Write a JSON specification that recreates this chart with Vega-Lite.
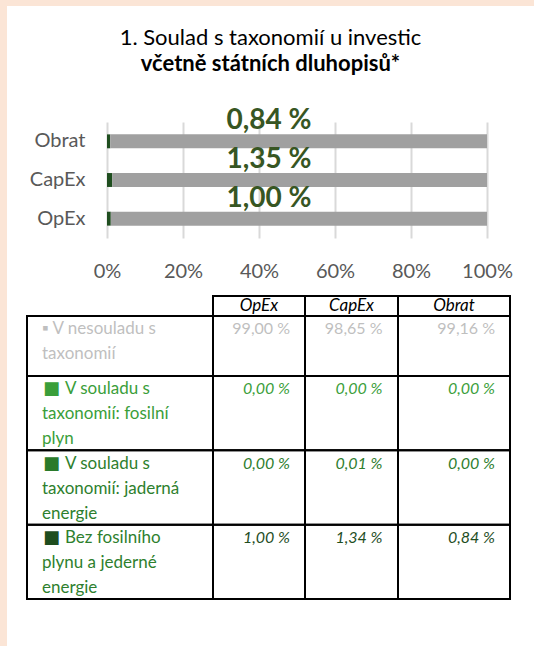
{
  "$schema": "https://vega.github.io/schema/vega-lite/v6.json",
  "background": "#ffffff",
  "padding": 0,
  "spacing": 0,
  "config": {
    "view": {"stroke": null},
    "font": "Lato",
    "text": {"font": "Lato"},
    "axis": {"labelFont": "Lato"}
  },
  "datasets": {
    "titles": [
      {"line": 1, "t": "1. Soulad s taxonomií u investic"},
      {"line": 2, "t": "včetně státních dluhopisů*"}
    ],
    "bars": [
      {"cat": "OpEx", "seg": "bez", "k": 1, "v": 0.0100},
      {"cat": "OpEx", "seg": "fos", "k": 2, "v": 0.0},
      {"cat": "OpEx", "seg": "jad", "k": 3, "v": 0.0},
      {"cat": "OpEx", "seg": "nes", "k": 4, "v": 0.9900},
      {"cat": "CapEx", "seg": "bez", "k": 1, "v": 0.0134},
      {"cat": "CapEx", "seg": "fos", "k": 2, "v": 0.0},
      {"cat": "CapEx", "seg": "jad", "k": 3, "v": 0.0001},
      {"cat": "CapEx", "seg": "nes", "k": 4, "v": 0.9865},
      {"cat": "Obrat", "seg": "bez", "k": 1, "v": 0.0084},
      {"cat": "Obrat", "seg": "fos", "k": 2, "v": 0.0},
      {"cat": "Obrat", "seg": "jad", "k": 3, "v": 0.0},
      {"cat": "Obrat", "seg": "nes", "k": 4, "v": 0.9916}
    ],
    "chartlabels": [
      {"cat": "Obrat", "lab": "0,84 %"},
      {"cat": "CapEx", "lab": "1,35 %"},
      {"cat": "OpEx", "lab": "1,00 %"}
    ],
    "cols": [{"col": "OpEx"}, {"col": "CapEx"}, {"col": "Obrat"}],
    "cells": [
      {"row": "nes", "col": "OpEx", "val": "99,00 %"},
      {"row": "nes", "col": "CapEx", "val": "98,65 %"},
      {"row": "nes", "col": "Obrat", "val": "99,16 %"},
      {"row": "fos", "col": "OpEx", "val": "0,00 %"},
      {"row": "fos", "col": "CapEx", "val": "0,00 %"},
      {"row": "fos", "col": "Obrat", "val": "0,00 %"},
      {"row": "jad", "col": "OpEx", "val": "0,00 %"},
      {"row": "jad", "col": "CapEx", "val": "0,01 %"},
      {"row": "jad", "col": "Obrat", "val": "0,00 %"},
      {"row": "bez", "col": "OpEx", "val": "1,00 %"},
      {"row": "bez", "col": "CapEx", "val": "1,34 %"},
      {"row": "bez", "col": "Obrat", "val": "0,84 %"}
    ],
    "rowlabels": [
      {"row": "nes", "sq": "", "first": "▪ V nesouladu s", "rest": "taxonomií"},
      {"row": "fos", "sq": "■", "first": "V souladu s", "rest": "taxonomií: fosilní\nplyn"},
      {"row": "jad", "sq": "■", "first": "V souladu s", "rest": "taxonomií: jaderná\nenergie"},
      {"row": "bez", "sq": "■", "first": "Bez fosilního", "rest": "plynu a jederné\nenergie"}
    ]
  },
  "vconcat": [
    {"width": 534, "height": 6, "view": {"fill": "#FBE5D6", "stroke": null}, "data": {"values": []}, "mark": "text", "encoding": {}},
    {
      "spacing": 0,
      "hconcat": [
        {"width": 7, "height": 640, "view": {"fill": "#FBE5D6", "stroke": null}, "data": {"values": []}, "mark": "text", "encoding": {}},
        {
          "spacing": 0,
          "vconcat": [
            {
              "width": 527, "height": 101,
              "data": {"name": "titles"},
              "encoding": {"text": {"field": "t"}},
              "layer": [
                {"transform": [{"filter": "datum.line == 1"}], "mark": {"type": "text", "fontSize": 22, "color": "#000000", "baseline": "alphabetic", "dy": -12}},
                {"transform": [{"filter": "datum.line == 2"}], "mark": {"type": "text", "fontSize": 22, "fontWeight": "bold", "color": "#000000", "baseline": "alphabetic", "dy": 14}}
              ]
            },
            {
              "spacing": 0,
              "bounds": "flush",
              "hconcat": [
                {"width": 100, "height": 116, "data": {"values": []}, "mark": "text", "encoding": {}},
                {
                  "width": 380, "height": 116,
                  "layer": [
                    {
                      "data": {"name": "bars"},
                      "mark": {"type": "bar", "orient": "horizontal"},
                      "encoding": {
                        "y": {"field": "cat", "type": "nominal", "sort": ["Obrat", "CapEx", "OpEx"], "scale": {"paddingInner": 0.64, "paddingOuter": 0.32},
                          "axis": {"title": null, "domain": false, "ticks": false, "labelPadding": 22, "labelFontSize": 20, "labelColor": "#595959"}},
                        "x": {"field": "v", "type": "quantitative", "stack": "zero", "scale": {"domain": [0, 1], "nice": false},
                          "axis": {"title": null, "domain": false, "ticks": false, "grid": true, "gridColor": "#D9D9D9", "gridWidth": 2, "values": [0, 0.2, 0.4, 0.6, 0.8, 1], "format": ".0%", "labelPadding": 23, "labelFontSize": 20, "labelColor": "#595959", "labelFlush": false, "labelOverlap": false}},
                        "color": {"field": "seg", "type": "nominal", "scale": {"domain": ["bez", "fos", "jad", "nes"], "range": ["#1F4E1F", "#3A9E3A", "#2E7D2E", "#A0A0A0"]}, "legend": null},
                        "order": {"field": "k", "type": "quantitative"}
                      }
                    },
                    {
                      "data": {"name": "chartlabels"},
                      "mark": {"type": "text", "fontSize": 28, "fontWeight": "bold", "color": "#375623", "dx": -28, "dy": -12, "baseline": "alphabetic"},
                      "encoding": {
                        "y": {"field": "cat", "type": "nominal", "sort": ["Obrat", "CapEx", "OpEx"]},
                        "text": {"field": "lab"}
                      }
                    }
                  ]
                }
              ]
            },
            {"width": 527, "height": 14, "data": {"values": []}, "mark": "text", "encoding": {}},
            {
              "columns": 5,
              "spacing": 0,
              "bounds": "flush",
              "align": "each",
              "concat": [
                {"width": 20, "height": 20, "data": {"values": []}, "mark": "text", "encoding": {}},
                {"width": 186, "height": 20, "data": {"values": []}, "mark": "text", "encoding": {}},
                {"width": 92, "height": 20, "view": {"stroke": "#000000", "strokeWidth": 2}, "data": {"name": "cols"}, "transform": [{"filter": "datum.col == 'OpEx'"}],
                  "mark": {"type": "text", "fontSize": 17, "fontStyle": "italic", "fontWeight": "normal", "color": "#000000", "baseline": "middle"}, "encoding": {"text": {"field": "col"}}},
                {"width": 93, "height": 20, "view": {"stroke": "#000000", "strokeWidth": 2}, "data": {"name": "cols"}, "transform": [{"filter": "datum.col == 'CapEx'"}],
                  "mark": {"type": "text", "fontSize": 17, "fontStyle": "italic", "fontWeight": "normal", "color": "#000000", "baseline": "middle"}, "encoding": {"text": {"field": "col"}}},
                {"width": 112, "height": 20, "view": {"stroke": "#000000", "strokeWidth": 2}, "data": {"name": "cols"}, "transform": [{"filter": "datum.col == 'Obrat'"}],
                  "mark": {"type": "text", "fontSize": 17, "fontStyle": "italic", "fontWeight": "normal", "color": "#000000", "baseline": "middle"}, "encoding": {"text": {"field": "col"}}},

                {"width": 20, "height": 60, "data": {"values": []}, "mark": "text", "encoding": {}},
                {"width": 186, "height": 60, "view": {"stroke": "#000000", "strokeWidth": 2}, "data": {"name": "rowlabels"}, "transform": [{"filter": "datum.row == 'nes'"}],
                  "encoding": {"y": {"field": "row", "type": "nominal", "scale": {"domain": ["nes"], "paddingInner": 0, "paddingOuter": 0}, "axis": null}},
                  "layer": [
                    {"mark": {"type": "text", "fontSize": 17, "color": "#BFBFBF", "align": "left", "dx": -78, "dy": -12, "baseline": "alphabetic"}, "encoding": {"text": {"field": "first"}}},
                    {"mark": {"type": "text", "fontSize": 17, "color": "#BFBFBF", "align": "left", "dx": -78, "dy": 13, "baseline": "alphabetic"}, "encoding": {"text": {"field": "rest"}}}
                  ]},
                {"width": 92, "height": 60, "view": {"stroke": "#000000", "strokeWidth": 2}, "data": {"name": "cells"}, "transform": [{"filter": "datum.col == 'OpEx' && datum.row == 'nes'"}],
                  "mark": {"type": "text", "fontSize": 16, "color": "#BFBFBF", "align": "right", "dx": 31, "dy": -12, "baseline": "alphabetic"},
                  "encoding": {"y": {"field": "row", "type": "nominal", "scale": {"domain": ["nes"], "paddingInner": 0, "paddingOuter": 0}, "axis": null}, "text": {"field": "val"}}},
                {"width": 93, "height": 60, "view": {"stroke": "#000000", "strokeWidth": 2}, "data": {"name": "cells"}, "transform": [{"filter": "datum.col == 'CapEx' && datum.row == 'nes'"}],
                  "mark": {"type": "text", "fontSize": 16, "color": "#BFBFBF", "align": "right", "dx": 31, "dy": -12, "baseline": "alphabetic"},
                  "encoding": {"y": {"field": "row", "type": "nominal", "scale": {"domain": ["nes"], "paddingInner": 0, "paddingOuter": 0}, "axis": null}, "text": {"field": "val"}}},
                {"width": 112, "height": 60, "view": {"stroke": "#000000", "strokeWidth": 2}, "data": {"name": "cells"}, "transform": [{"filter": "datum.col == 'Obrat' && datum.row == 'nes'"}],
                  "mark": {"type": "text", "fontSize": 16, "color": "#BFBFBF", "align": "right", "dx": 41, "dy": -12, "baseline": "alphabetic"},
                  "encoding": {"y": {"field": "row", "type": "nominal", "scale": {"domain": ["nes"], "paddingInner": 0, "paddingOuter": 0}, "axis": null}, "text": {"field": "val"}}},

                {"width": 20, "height": 223, "data": {"values": []}, "mark": "text", "encoding": {}},
                {"width": 186, "height": 223, "view": {"stroke": "#000000", "strokeWidth": 2}, "data": {"name": "rowlabels"}, "transform": [{"filter": "datum.row != 'nes'"}],
                  "resolve": {"scale": {"color": "independent"}},
                  "encoding": {"y": {"field": "row", "type": "nominal", "scale": {"domain": ["fos", "jad", "bez"], "paddingInner": 0, "paddingOuter": 0}, "axis": null}},
                  "layer": [
                    {"mark": {"type": "rect", "filled": false, "color": "#000000", "strokeWidth": 2}, "encoding": {}},
                    {"mark": {"type": "text", "font": "DejaVu Sans", "fontSize": 18, "align": "left", "dx": -77, "dy": -19, "baseline": "alphabetic"},
                      "encoding": {"text": {"field": "sq"},
                        "color": {"field": "row", "type": "nominal", "scale": {"domain": ["fos", "jad", "bez"], "range": ["#3A9E3A", "#2A7A2A", "#1E4D1E"]}, "legend": null}}},
                    {"mark": {"type": "text", "fontSize": 17, "align": "left", "dx": -55, "dy": -19, "baseline": "alphabetic"},
                      "encoding": {"text": {"field": "first"},
                        "color": {"field": "row", "type": "nominal", "scale": {"domain": ["fos", "jad", "bez"], "range": ["#3A9E3A", "#2E7F2E", "#2E7F2E"]}, "legend": null}}},
                    {"mark": {"type": "text", "fontSize": 17, "align": "left", "dx": -78, "dy": 6, "baseline": "alphabetic", "lineBreak": "\n", "lineHeight": 25},
                      "encoding": {"text": {"field": "rest"},
                        "color": {"field": "row", "type": "nominal", "scale": {"domain": ["fos", "jad", "bez"], "range": ["#3A9E3A", "#2E7F2E", "#2E7F2E"]}, "legend": null}}}
                  ]},
                {"width": 92, "height": 223, "view": {"stroke": "#000000", "strokeWidth": 2}, "data": {"name": "cells"}, "transform": [{"filter": "datum.col == 'OpEx' && datum.row != 'nes'"}],
                  "encoding": {"y": {"field": "row", "type": "nominal", "scale": {"domain": ["fos", "jad", "bez"], "paddingInner": 0, "paddingOuter": 0}, "axis": null}},
                  "layer": [
                    {"mark": {"type": "rect", "filled": false, "color": "#000000", "strokeWidth": 2}, "encoding": {}},
                    {"mark": {"type": "text", "fontSize": 16, "fontStyle": "italic", "align": "right", "dx": 31, "dy": -19, "baseline": "alphabetic"},
                      "encoding": {"text": {"field": "val"}, "color": {"field": "row", "type": "nominal", "scale": {"domain": ["fos", "jad", "bez"], "range": ["#3A9E3A", "#2E6E2E", "#375623"]}, "legend": null}}}
                  ]},
                {"width": 93, "height": 223, "view": {"stroke": "#000000", "strokeWidth": 2}, "data": {"name": "cells"}, "transform": [{"filter": "datum.col == 'CapEx' && datum.row != 'nes'"}],
                  "encoding": {"y": {"field": "row", "type": "nominal", "scale": {"domain": ["fos", "jad", "bez"], "paddingInner": 0, "paddingOuter": 0}, "axis": null}},
                  "layer": [
                    {"mark": {"type": "rect", "filled": false, "color": "#000000", "strokeWidth": 2}, "encoding": {}},
                    {"mark": {"type": "text", "fontSize": 16, "fontStyle": "italic", "align": "right", "dx": 31, "dy": -19, "baseline": "alphabetic"},
                      "encoding": {"text": {"field": "val"}, "color": {"field": "row", "type": "nominal", "scale": {"domain": ["fos", "jad", "bez"], "range": ["#3A9E3A", "#2E6E2E", "#375623"]}, "legend": null}}}
                  ]},
                {"width": 112, "height": 223, "view": {"stroke": "#000000", "strokeWidth": 2}, "data": {"name": "cells"}, "transform": [{"filter": "datum.col == 'Obrat' && datum.row != 'nes'"}],
                  "encoding": {"y": {"field": "row", "type": "nominal", "scale": {"domain": ["fos", "jad", "bez"], "paddingInner": 0, "paddingOuter": 0}, "axis": null}},
                  "layer": [
                    {"mark": {"type": "rect", "filled": false, "color": "#000000", "strokeWidth": 2}, "encoding": {}},
                    {"mark": {"type": "text", "fontSize": 16, "fontStyle": "italic", "align": "right", "dx": 41, "dy": -19, "baseline": "alphabetic"},
                      "encoding": {"text": {"field": "val"}, "color": {"field": "row", "type": "nominal", "scale": {"domain": ["fos", "jad", "bez"], "range": ["#3A9E3A", "#2E6E2E", "#375623"]}, "legend": null}}}
                  ]}
              ]
            }
          ]
        }
      ]
    }
  ]
}
